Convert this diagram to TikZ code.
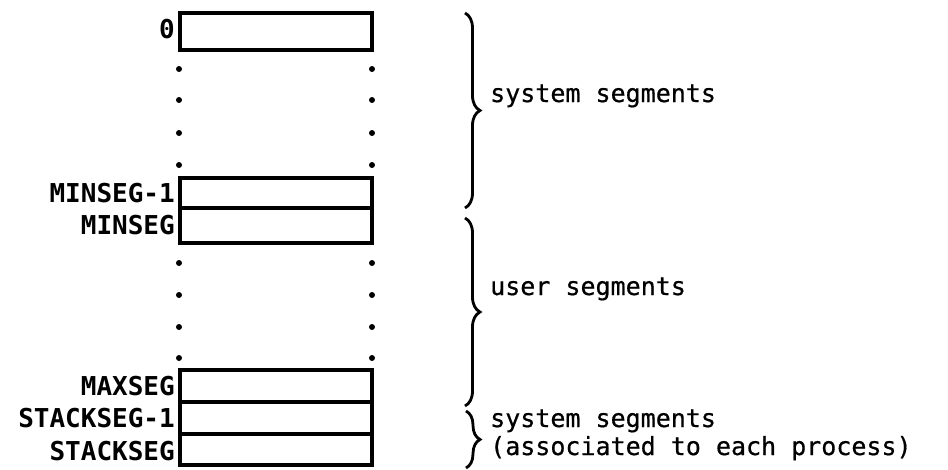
\documentclass[tikz,border=0pt]{standalone}
\usepackage{fontspec}
\newfontfamily\segfont{DejaVu Sans Mono}
\newfontfamily\notefont[FakeBold=0.6]{DejaVu Sans Mono}
\usetikzlibrary{decorations.pathreplacing}

\begin{document}
\begin{tikzpicture}[x=1pt,y=-1pt,
  segbox/.style={draw, line width=3.6pt, minimum width=192pt, inner sep=0pt},
  seglabel/.style={anchor=base east, inner sep=0pt, font=\segfont\bfseries\fontsize{26}{26}\selectfont},
  note/.style={anchor=base west, inner sep=0pt, font=\notefont\fontsize{25}{30}\selectfont},
  gapdot/.style={fill, circle, inner sep=0pt, minimum size=6pt},
  segbrace/.style={draw, line width=2.8pt, decorate, decoration={brace, amplitude=15pt}}]

  \useasboundingbox (0,0) rectangle (948,469);

  % segment table rows
  \node[segbox, minimum height=37pt]   (s0)   at (276,31.5)  {};
  \node[segbox, minimum height=29.5pt] (smn1) at (276,192.8) {};
  \node[segbox, minimum height=35pt]   (smn)  at (276,225.5) {};
  \node[segbox, minimum height=32pt]   (smx)  at (276,386)   {};
  \node[segbox, minimum height=32pt]   (sst1) at (276,418)   {};
  \node[segbox, minimum height=31pt]   (sst)  at (276,449.5) {};

  % row labels
  \node[seglabel] (l0)   at (175,38)  {0};
  \node[seglabel] (lmn1) at (175,202) {MINSEG-1};
  \node[seglabel] (lmn)  at (175,234) {MINSEG};
  \node[seglabel] (lmx)  at (175,395) {MAXSEG};
  \node[seglabel] (lst1) at (175,427) {STACKSEG-1};
  \node[seglabel] (lst)  at (175,460) {STACKSEG};

  % elided rows
  \foreach \yy [count=\i] in {69,100,133,165,263,295,327,358} {
    \node[gapdot] (dl\i) at (179,\yy) {};
    \node[gapdot] (dr\i) at (372,\yy) {};
  }

  % groupings
  \coordinate (b1t) at (465,13);
  \coordinate (b1b) at (465,208);
  \coordinate (b2t) at (465,218);
  \coordinate (b2b) at (465,406);
  \coordinate (b3t) at (466,411);
  \coordinate (b3b) at (466,468);
  \draw[segbrace] (b1t) -- (b1b);
  \draw[segbrace] (b2t) -- (b2b);
  \draw[segbrace, decoration={brace, amplitude=14pt}] (b3t) -- (b3b);

  \node[note] (n1)  at (490,102) {system segments};
  \node[note] (n2)  at (490,295) {user segments};
  \node[note] (n3a) at (490,427) {system segments};
  \node[note] (n3b) at (490,455) {(associated to each process)};
\end{tikzpicture}
\end{document}
